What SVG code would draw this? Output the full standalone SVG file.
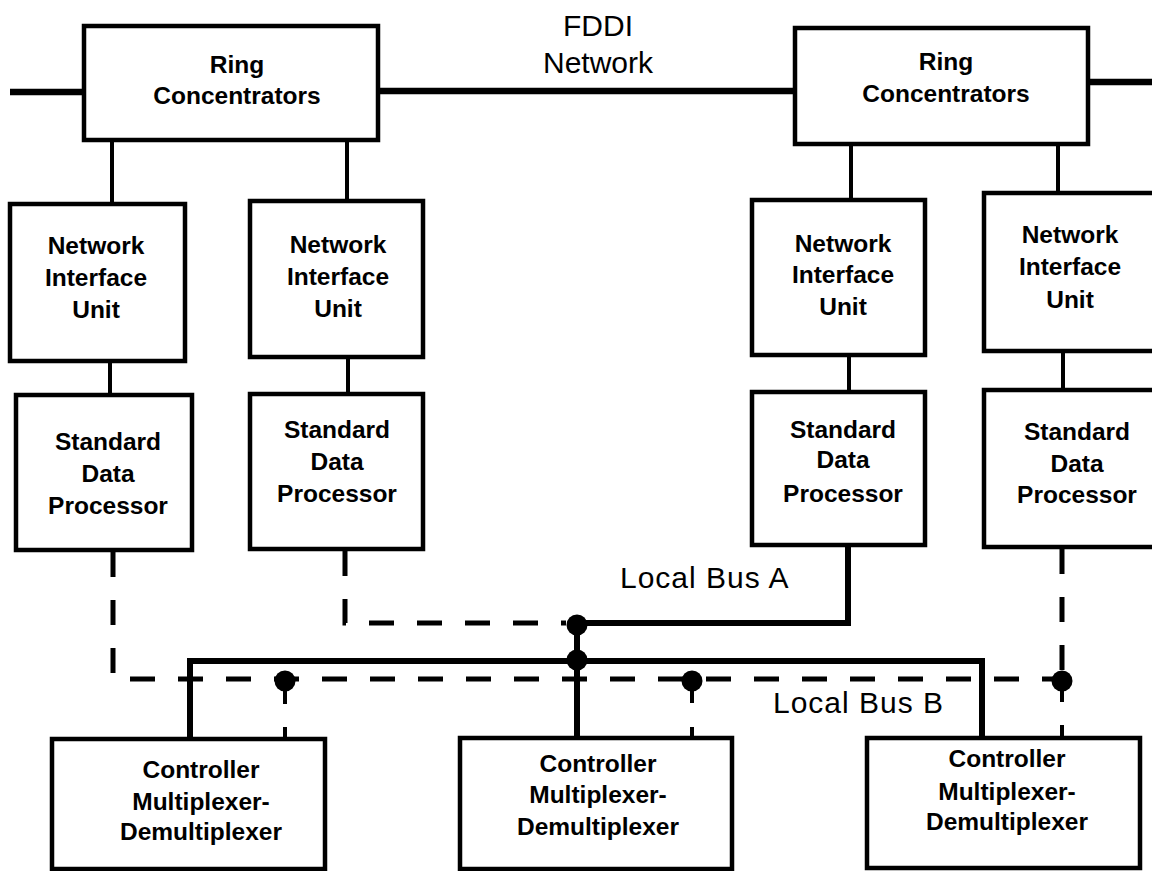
<svg xmlns="http://www.w3.org/2000/svg" width="1152" height="871" viewBox="0 0 1152 871">
<style>
.box{fill:#fff;stroke:#000;stroke-width:4.5}
.t{font-family:"Liberation Sans",Arial,sans-serif;font-weight:bold;font-size:24.5px;text-anchor:middle;fill:#000}
.lbl{font-family:"Liberation Sans",Arial,sans-serif;font-size:30px;fill:#000}
.ring{stroke:#000;stroke-width:6.5;fill:none}
.link{stroke:#000;stroke-width:4;fill:none}
.bus{stroke:#000;stroke-width:6;fill:none}
.dash{stroke:#000;stroke-width:5;fill:none;stroke-dasharray:25 23}
.dot{fill:#000}
</style>
<rect width="1152" height="871" fill="#fff"/>
<g id="connectors">
<path class="ring" d="M10,92 H84"/>
<path class="ring" d="M378,91 H795"/>
<path class="ring" d="M1088,82 H1152"/>
<path class="link" d="M112,140 V204"/>
<path class="link" d="M347,140 V201"/>
<path class="link" d="M851,144 V200"/>
<path class="link" d="M1058,144 V193"/>
<path class="link" d="M110,361 V395"/>
<path class="link" d="M348,357 V394"/>
<path class="link" d="M849,355 V392"/>
<path class="link" d="M1063,351 V390"/>
<path class="dash" d="M113,552 V679 H1062"/>
<path class="dash" d="M345,551 V623 H566"/>
<path class="dash" d="M1062,549 V672"/>
<path class="bus" d="M848,545 V623 H577 V738"/>
<path class="bus" d="M190,738 V661 H982 V738"/>
<path class="link" d="M285,682 V704 M285,727 V739"/>
<path class="link" d="M692,682 V703 M692,727 V738"/>
<path class="link" d="M1062,682 V702 M1062,725 V738"/>
<circle class="dot" cx="577" cy="625" r="10.5"/>
<circle class="dot" cx="577" cy="660" r="10.5"/>
<circle class="dot" cx="285" cy="681" r="10.5"/>
<circle class="dot" cx="692" cy="681" r="10.5"/>
<circle class="dot" cx="1062" cy="681" r="10.5"/>
</g>
<g id="fddi-label">
<text class="lbl" x="598" y="36" text-anchor="middle" font-size="31">FDDI</text>
<text class="lbl" x="598" y="73" text-anchor="middle" font-size="31">Network</text>
</g>
<g id="bus-a-label"><text class="lbl" x="620" y="588" letter-spacing="1">Local Bus A</text></g>
<g id="bus-b-label"><text class="lbl" x="773" y="713" letter-spacing="1">Local Bus B</text></g>
<g id="rc1">
<rect class="box" x="84" y="26" width="294" height="114"/>
<text class="t" x="237" y="73">Ring</text>
<text class="t" x="237" y="104">Concentrators</text>
</g>
<g id="rc2">
<rect class="box" x="795" y="28" width="293" height="116"/>
<text class="t" x="946" y="70">Ring</text>
<text class="t" x="946" y="102">Concentrators</text>
</g>
<g id="niu1">
<rect class="box" x="10" y="204" width="175" height="157"/>
<text class="t" x="96" y="254">Network</text>
<text class="t" x="96" y="286">Interface</text>
<text class="t" x="96" y="318">Unit</text>
</g>
<g id="niu2">
<rect class="box" x="250" y="201" width="173" height="156"/>
<text class="t" x="338" y="253">Network</text>
<text class="t" x="338" y="285">Interface</text>
<text class="t" x="338" y="317">Unit</text>
</g>
<g id="niu3">
<rect class="box" x="752" y="200" width="173" height="155"/>
<text class="t" x="843" y="252">Network</text>
<text class="t" x="843" y="283">Interface</text>
<text class="t" x="843" y="315">Unit</text>
</g>
<g id="niu4">
<rect class="box" x="984" y="193" width="174" height="158"/>
<text class="t" x="1070" y="243">Network</text>
<text class="t" x="1070" y="275">Interface</text>
<text class="t" x="1070" y="308">Unit</text>
</g>
<g id="sdp1">
<rect class="box" x="16" y="395" width="176" height="155"/>
<text class="t" x="108" y="450">Standard</text>
<text class="t" x="108" y="482">Data</text>
<text class="t" x="108" y="514">Processor</text>
</g>
<g id="sdp2">
<rect class="box" x="250" y="394" width="173" height="155"/>
<text class="t" x="337" y="438">Standard</text>
<text class="t" x="337" y="470">Data</text>
<text class="t" x="337" y="502">Processor</text>
</g>
<g id="sdp3">
<rect class="box" x="752" y="392" width="173" height="153"/>
<text class="t" x="843" y="438">Standard</text>
<text class="t" x="843" y="468">Data</text>
<text class="t" x="843" y="502">Processor</text>
</g>
<g id="sdp4">
<rect class="box" x="984" y="390" width="174" height="157"/>
<text class="t" x="1077" y="440">Standard</text>
<text class="t" x="1077" y="472">Data</text>
<text class="t" x="1077" y="503">Processor</text>
</g>
<g id="cmd1">
<rect class="box" x="52" y="739" width="273" height="130"/>
<text class="t" x="201" y="778" font-size="23.5">Controller</text>
<text class="t" x="201" y="810" font-size="23.5">Multiplexer-</text>
<text class="t" x="201" y="840" font-size="23.5">Demultiplexer</text>
</g>
<g id="cmd2">
<rect class="box" x="460" y="738" width="272" height="131"/>
<text class="t" x="598" y="772" font-size="23.5">Controller</text>
<text class="t" x="598" y="803" font-size="23.5">Multiplexer-</text>
<text class="t" x="598" y="835" font-size="23.5">Demultiplexer</text>
</g>
<g id="cmd3">
<rect class="box" x="867" y="738" width="273" height="130"/>
<text class="t" x="1007" y="767" font-size="23.5">Controller</text>
<text class="t" x="1007" y="800" font-size="23.5">Multiplexer-</text>
<text class="t" x="1007" y="830" font-size="23.5">Demultiplexer</text>
</g>
</svg>
